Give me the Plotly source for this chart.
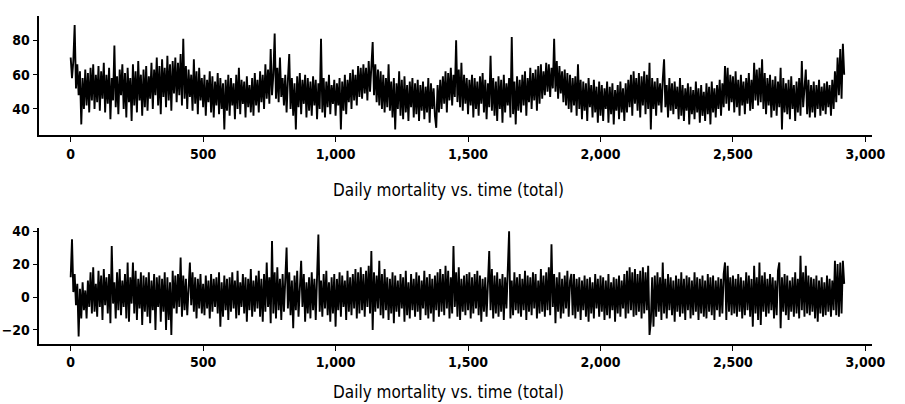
import numpy as np
import plotly.graph_objects as go

DAY_STEP = 5  # one reading every 5 days

total_deaths = [
    # 0-95
    70, 58, 68, 89, 52, 66, 48, 62, 31, 58, 40, 63, 42, 61, 38, 64, 45, 66, 40, 60,
    # 100-195
    44, 65, 39, 62, 46, 67, 38, 60, 43, 64, 34, 58, 45, 77, 41, 59, 37, 63, 48, 66,
    # 200-295
    40, 61, 35, 64, 44, 58, 33, 66, 42, 62, 38, 68, 45, 60, 36, 63, 41, 65, 39, 59,
    # 300-395
    46, 67, 40, 63, 48, 70, 42, 65, 37, 69, 47, 64, 41, 71, 45, 66, 39, 68, 49, 70,
    # 400-495
    44, 67, 48, 72, 42, 81, 46, 65, 40, 63, 47, 60, 39, 69, 43, 62, 37, 64, 45, 58,
    # 500-595
    41, 60, 36, 57, 44, 62, 38, 59, 35, 56, 42, 61, 37, 58, 40, 55, 28, 57, 39, 60,
    # 600-695
    36, 58, 42, 55, 34, 60, 40, 64, 37, 57, 43, 56, 35, 59, 41, 54, 38, 58, 36, 61,
    # 700-795
    42, 57, 38, 62, 44, 60, 40, 66, 46, 63, 43, 75, 48, 60, 84, 46, 64, 44, 70, 47,
    # 800-895
    58, 42, 60, 38, 57, 72, 40, 58, 36, 55, 28, 59, 41, 61, 37, 57, 43, 60, 35, 58,
    # 900-995
    39, 56, 36, 59, 42, 57, 34, 55, 40, 81, 38, 58, 35, 56, 41, 60, 37, 54, 43, 57,
    # 1000-1095
    36, 55, 42, 58, 28, 56, 39, 60, 37, 57, 44, 61, 40, 63, 45, 60, 42, 65, 47, 64,
    # 1100-1195
    46, 66, 49, 64, 45, 68, 50, 62, 79, 48, 66, 44, 63, 42, 62, 40, 60, 38, 58, 41,
    # 1200-1295
    66, 39, 56, 35, 58, 28, 55, 40, 62, 36, 57, 34, 59, 38, 54, 33, 56, 41, 58, 35,
    # 1300-1395
    55, 37, 57, 33, 54, 39, 56, 34, 53, 38, 58, 32, 55, 40, 52, 36, 29, 54, 38, 57,
    # 1400-1495
    40, 59, 43, 62, 38, 61, 45, 64, 42, 60, 47, 80, 44, 63, 41, 67, 39, 60, 43, 58,
    # 1500-1595
    37, 57, 42, 60, 35, 58, 40, 56, 36, 59, 43, 61, 38, 57, 34, 55, 41, 71, 39, 58,
    # 1600-1695
    36, 56, 33, 59, 40, 57, 32, 60, 38, 55, 42, 58, 35, 82, 37, 56, 31, 59, 39, 57,
    # 1700-1795
    38, 60, 42, 62, 36, 58, 44, 64, 40, 61, 45, 63, 39, 65, 43, 66, 46, 62, 48, 67,
    # 1800-1895
    50, 66, 47, 64, 52, 81, 50, 68, 46, 65, 49, 62, 44, 63, 42, 61, 40, 60, 38, 58,
    # 1900-1995
    42, 59, 36, 66, 40, 57, 34, 56, 39, 55, 33, 58, 41, 54, 35, 57, 38, 53, 32, 56,
    # 2000-2095
    36, 54, 33, 52, 40, 56, 32, 53, 37, 55, 31, 51, 39, 54, 34, 56, 38, 52, 33, 55,
    # 2100-2195
    38, 57, 41, 60, 36, 62, 43, 58, 39, 61, 35, 59, 42, 62, 37, 60, 40, 67, 28, 58,
    # 2200-2295
    40, 56, 36, 58, 42, 55, 38, 57, 69, 41, 54, 35, 58, 39, 55, 37, 56, 40, 53, 34,
    # 2300-2395
    58, 36, 54, 33, 52, 39, 55, 31, 53, 37, 51, 34, 56, 38, 52, 32, 54, 36, 50, 33,
    # 2400-2495
    55, 37, 53, 31, 56, 38, 52, 35, 54, 40, 57, 36, 55, 41, 65, 43, 64, 39, 60, 44,
    # 2500-2595
    59, 38, 62, 41, 57, 36, 60, 42, 56, 37, 58, 43, 61, 39, 57, 40, 67, 45, 63, 42,
    # 2600-2695
    64, 44, 69, 40, 61, 37, 58, 42, 60, 35, 57, 39, 59, 36, 56, 41, 64, 28, 58, 38,
    # 2700-2795
    55, 37, 57, 34, 59, 40, 54, 33, 56, 38, 58, 36, 68, 41, 55, 63, 37, 57, 35, 54,
    # 2800-2895
    38, 56, 35, 54, 40, 57, 36, 53, 39, 55, 37, 56, 41, 54, 36, 57, 40, 62, 44, 70,
    # 2900-2920
    48, 75, 46, 78, 60,
]

residuals = [
    # 0-95
    12, 35, 3, 14, -5, 8, -24, 5, -13, 9, -8, 4, -13, 10, -6, 15, -10, 18, -9, 8,
    # 100-195
    -12, 16, -6, 13, -14, 17, -5, 12, -10, 14, -16, 31, -4, 9, -13, 15, -8, 17, -11, 10,
    # 200-295
    -6, 14, -13, 21, -15, 12, -4, 21, -10, 16, -14, 11, -7, 15, -17, 13, -9, 12, -12, 15,
    # 300-395
    -16, 10, -8, 14, -20, 12, -6, 13, -15, 11, -9, 15, -20, 12, -14, 9, -23, 16, -7, 13,
    # 400-495
    -10, 14, -6, 24, -12, 13, -8, 11, -11, 10, 21, -5, 15, -9, 12, -13, 11, -7, 14, -10,
    # 500-595
    8, -11, 13, -7, 10, -13, 14, -9, 11, -6, 12, -10, 15, -18, 9, -12, 13, -8, 11, -14,
    # 600-695
    12, -9, 15, -7, 10, -13, 16, -11, 9, -6, 14, -10, 12, -15, 11, -8, 17, -12, 10, -9,
    # 700-795
    13, -7, 16, -12, 11, -15, 14, -9, 21, -6, 12, -16, 34, -10, 15, -13, 18, -8, 11, -14,
    # 800-895
    14, -9, 12, 30, -7, 15, -11, 10, -19, 13, -8, 16, -12, 11, 22, -6, 14, -15, 9, -10,
    # 900-995
    12, -13, 15, -8, 11, -14, 13, 38, -9, 10, -12, 14, -7, 16, -11, 9, -15, 12, -10, 14,
    # 1000-1095
    -18, 11, -8, 15, -12, 13, -6, 10, -14, 16, -9, 12, -11, 14, -7, 17, -13, 15, -10, 18,
    # 1100-1195
    -8, 14, -12, 16, -6, 19, -10, 28, -20, 15, -9, 13, -7, 22, -11, 14, -13, 17, -8, 12,
    # 1200-1295
    -14, 11, -10, 15, -16, 13, -9, 10, -12, 14, -7, 12, -15, 16, -11, 9, -13, 14, -8, 11,
    # 1300-1395
    -12, 15, -9, 13, -14, 10, -7, 16, -11, 12, -13, 14, -10, 11, -15, 13, -8, 15, -12, 17,
    # 1400-1495
    -9, 14, -11, 19, -7, 16, -13, 12, -10, 31, -6, 15, -12, 18, -14, 11, -9, 13, -11, 14,
    # 1500-1595
    -8, 15, -13, 12, -10, 14, -7, 16, -11, 13, -15, 11, -9, 12, -12, 15, 28, -8, 17, -13,
    # 1600-1695
    13, -10, 15, -12, 11, -9, 14, -14, 12, -7, 16, 40, -13, 10, -11, 15, -8, 12, -10, 14,
    # 1700-1795
    -12, 11, -8, 16, -14, 13, -9, 12, -11, 15, -7, 14, -13, 10, -10, 17, -9, 13, -12, 15,
    # 1800-1895
    -8, 18, -11, 32, -6, 14, -16, 12, -9, 15, -13, 11, -10, 13, -7, 16, -12, 10, 14, -11,
    # 1900-1995
    14, -13, 11, -9, 12, -14, 10, -8, 13, -12, 11, -15, 12, -10, 9, -13, 14, -7, 11, -12,
    # 2000-2095
    13, -9, 12, -14, 10, -11, 14, -13, 9, -8, 12, -15, 11, -10, 13, -12, 10, -7, 14, -13,
    # 2100-2195
    16, -10, 18, -8, 15, -12, 17, -11, 14, -9, 16, -13, 18, -10, 15, -8, 19, -23, -15, 12,
    # 2200-2295
    -18, 13, -12, 15, -9, 12, -14, 21, -10, 11, -13, 14, -8, 12, -11, 10, -15, 13, -9, 11,
    # 2300-2395
    -12, 15, -10, 11, -14, 13, -8, 12, -13, 10, -11, 15, -9, 12, -14, 11, -10, 13, -12, 10,
    # 2400-2495
    -13, 14, -9, 12, -11, 13, -14, 10, -8, 12, -12, 11, -10, 14, 21, -14, 19, -9, 12, -11,
    # 2500-2595
    13, -10, 11, -12, 14, -9, 12, -13, 10, -11, 15, -8, 13, -12, 11, -18, 19, -10, 12, -14,
    # 2600-2695
    21, -17, 13, -9, 15, -12, 11, -10, 14, -8, 12, -13, 10, -11, 16, 21, -19, 12, -9, 14,
    # 2700-2795
    -11, 13, -14, 10, -9, 12, -12, 15, -10, 11, -13, 25, -8, 15, -12, 19, -10, 13, -11, 12,
    # 2800-2895
    -9, 11, -13, 13, -15, 10, -10, 12, -12, 9, -11, 13, -9, 11, -12, 10, -8, 22, -11, 20,
    # 2900-2920
    -12, 21, -10, 22, 8,
]

x_ticks = [0, 500, 1000, 1500, 2000, 2500, 3000]
top_y_ticks = [40, 60, 80]
bottom_y_ticks = [-20, 0, 20, 40]
panel_title = "Daily mortality vs. time (total)"

days_top = np.arange(len(total_deaths)) * DAY_STEP
days_bot = np.arange(len(residuals)) * DAY_STEP

W, H = 905, 404
FONT = "Liberation Sans Narrow, DejaVu Sans Condensed, Arial Narrow, sans-serif"

fig = go.Figure()
fig.add_trace(go.Scatter(x=days_top, y=total_deaths, mode="lines",
                         line=dict(color="black", width=1.9),
                         xaxis="x", yaxis="y", showlegend=False, hoverinfo="skip"))
fig.add_trace(go.Scatter(x=days_bot, y=residuals, mode="lines",
                         line=dict(color="black", width=1.9),
                         xaxis="x2", yaxis="y2", showlegend=False, hoverinfo="skip"))

tickfont = dict(family=FONT, size=14, color="black", weight="bold")
common_x = dict(range=[-118, 3026], tickvals=x_ticks, tickformat=",d",
                showline=True, linecolor="black", linewidth=1.5,
                ticks="outside", ticklen=5, tickwidth=1, tickcolor="black",
                showgrid=False, zeroline=False, tickfont=tickfont,
                domain=[40 / W, 885 / W], fixedrange=True)
common_y = dict(showline=True, linecolor="black", linewidth=1.5,
                ticks="outside", ticklen=5, tickwidth=1, tickcolor="black",
                showgrid=False, zeroline=False, tickfont=tickfont, fixedrange=True)

fig.update_layout(
    width=W, height=H,
    margin=dict(l=0, r=0, t=0, b=0),
    paper_bgcolor="white", plot_bgcolor="white",
    xaxis=dict(**common_x, anchor="y"),
    yaxis=dict(**common_y, range=[24.6, 94.3], tickvals=top_y_ticks,
               domain=[1 - 132 / H, 1 - 11 / H], anchor="x"),
    xaxis2=dict(**common_x, anchor="y2"),
    yaxis2=dict(**common_y, range=[-28.4, 41.8], tickvals=bottom_y_ticks,
                domain=[1 - 343 / H, 1 - 226 / H], anchor="x2"),
    annotations=[
        dict(text=panel_title, x=455 / W, y=1 - 187 / H, xref="paper", yref="paper",
             showarrow=False, xanchor="center", yanchor="middle",
             font=dict(family=FONT, size=17, color="black")),
        dict(text=panel_title, x=455 / W, y=1 - 392 / H, xref="paper", yref="paper",
             showarrow=False, xanchor="center", yanchor="middle",
             font=dict(family=FONT, size=17, color="black")),
    ],
)

fig.write_html("out.html", config={"displayModeBar": False},
               post_script="document.body.style.margin='0';document.body.style.padding='0';")
